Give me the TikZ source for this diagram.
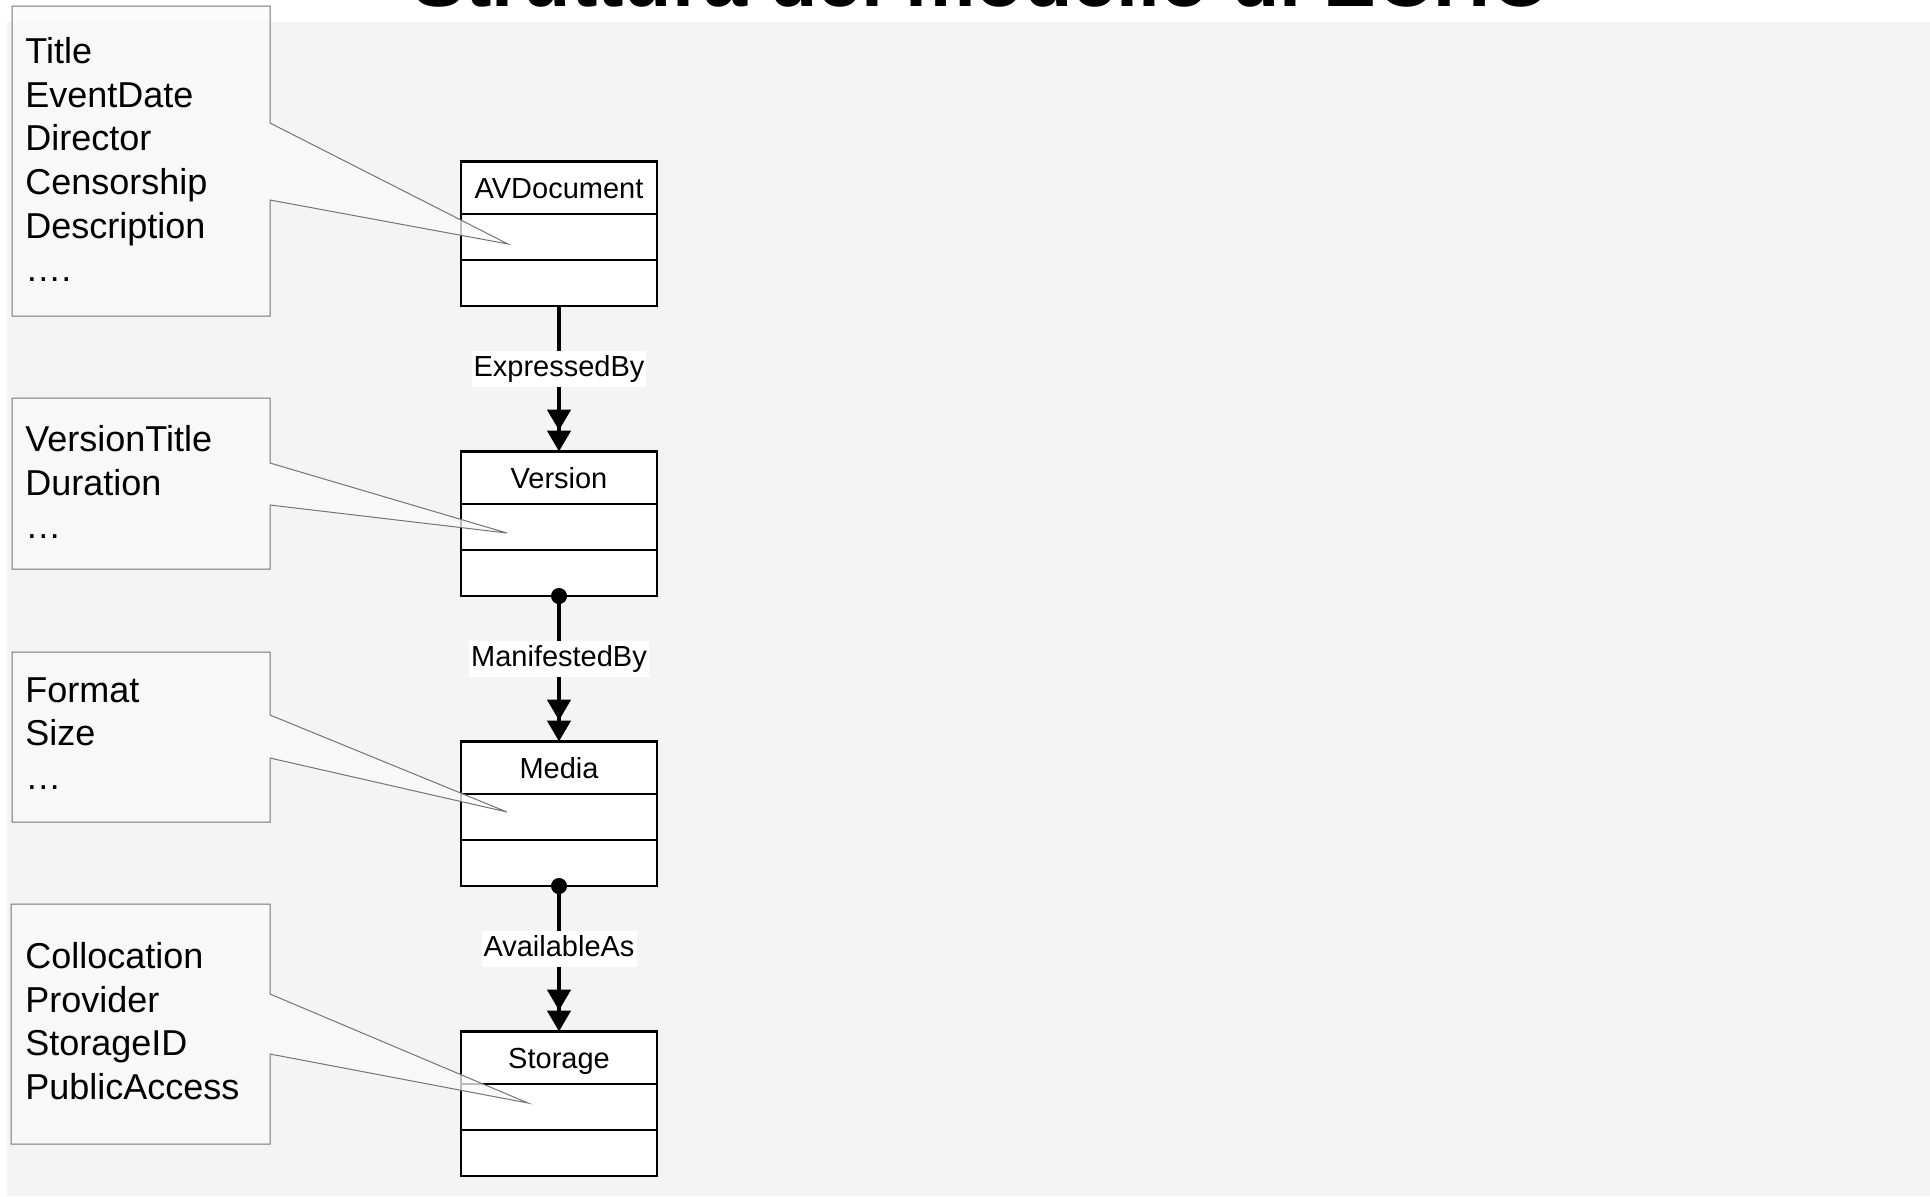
\documentclass[tikz,border=0pt]{standalone}
\usepackage{fontspec}
\setmainfont{Liberation Sans}
\usetikzlibrary{arrows.meta,positioning}

\definecolor{slidebg}{HTML}{F4F4F4}
\definecolor{notefill}{HTML}{FAFAFA}
\definecolor{noteline}{HTML}{747474}

\begin{document}
\begin{tikzpicture}[
    x=0.5pt, y=-0.5pt,
    node distance=72.75pt,
    cls/.style={draw, line width=1.4pt, fill=white, minimum width=98pt, minimum height=26.25pt, outer sep=0pt, inner sep=0pt, font=\fontsize{14.5pt}{17pt}\selectfont, text height=10.4pt, text depth=0pt},
    slot/.style={cls, minimum height=23pt},
    lbl/.style={fill=white, font=\fontsize{14.5pt}{17pt}\selectfont, inner xsep=1pt, inner ysep=2.25pt, text height=10.5pt, text depth=3pt},
    rel/.style={line width=2.3pt, -{Triangle[length=10.5pt,width=11.5pt]Triangle[length=10.5pt,width=11.5pt]}},
    reldot/.style={line width=2.3pt, {Circle[length=8pt]}-{Triangle[length=10.5pt,width=11.5pt]Triangle[length=10.5pt,width=11.5pt]}, shorten <=-4pt},
    note/.style={draw=noteline, line width=0.5pt, fill=notefill, fill opacity=0.75},
    notetxt/.style={anchor=north west, inner sep=0pt, align=left, font=\fontsize{18pt}{21.85pt}\selectfont}
]
\useasboundingbox (0,0) rectangle (1930,1196);
\clip (0,0) rectangle (1930,1196);
\fill[white] (0,0) rectangle (1930,1196);
\fill[slidebg] (7,22) rectangle (1930,1196);

\node[anchor=base, font=\bfseries\fontsize{39.6pt}{44pt}\selectfont] (title) at (982.5,6) {Struttura del modello di ECHO};

\node[cls] (av) at (559,187.75) {AVDocument};
\node[slot, below=0pt of av] (av-a) {};
\node[slot, below=0pt of av-a] (av-b) {};

\node[cls, below=of av-b] (ver) {Version};
\node[slot, below=0pt of ver] (ver-a) {};
\node[slot, below=0pt of ver-a] (ver-b) {};

\node[cls, below=of ver-b] (med) {Media};
\node[slot, below=0pt of med] (med-a) {};
\node[slot, below=0pt of med-a] (med-b) {};

\node[cls, below=of med-b] (sto) {Storage};
\node[slot, below=0pt of sto] (sto-a) {};
\node[slot, below=0pt of sto-a] (sto-b) {};

\draw[rel] (av-b) -- node[lbl, pos=0.43] (expr) {ExpressedBy} (ver);
\draw[reldot] (ver-b) -- node[lbl, pos=0.43] (manif) {ManifestedBy} (med);
\draw[reldot] (med-b) -- node[lbl, pos=0.43] (avail) {AvailableAs} (sto);

\draw[note] (12,6) -- (270,6) -- (270,123) -- (508,244) -- (270,200) -- (270,316) -- (12,316) -- cycle;
\draw[note] (12,398) -- (270,398) -- (270,463) -- (507,533) -- (270,505) -- (270,569) -- (12,569) -- cycle;
\draw[note] (12,652) -- (270,652) -- (270,715) -- (507,812) -- (270,758) -- (270,822) -- (12,822) -- cycle;
\draw[note] (11,904) -- (270,904) -- (270,994) -- (528,1103) -- (270,1054) -- (270,1144) -- (11,1144) -- cycle;

\node[notetxt] (av-note) at (25,37) {Title\\EventDate\\Director\\Censorship\\Description\\….};
\node[notetxt] (ver-note) at (25,425) {VersionTitle\\Duration\\…};
\node[notetxt] (med-note) at (25,677) {Format\\Size\\…};
\node[notetxt] (sto-note) at (25,942) {Collocation\\Provider\\StorageID\\PublicAccess};
\end{tikzpicture}
\end{document}
